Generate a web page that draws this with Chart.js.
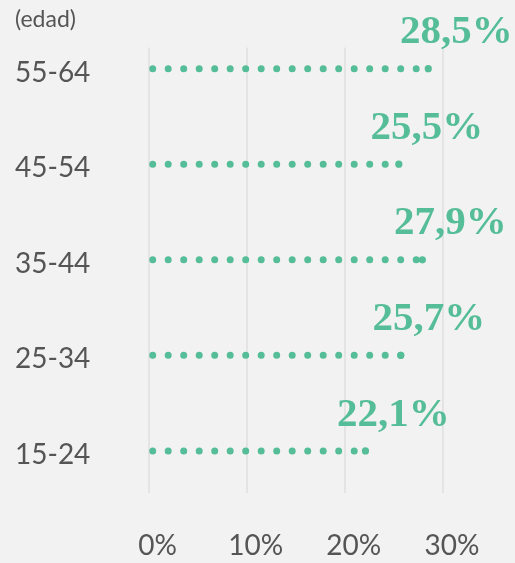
<!DOCTYPE html>
<html>
<head>
<meta charset="utf-8">
<script src="https://cdn.jsdelivr.net/npm/chart.js@4/dist/chart.umd.min.js"></script>
<style>
  html, body { margin: 0; padding: 0; background: #f2f2f2; }
  #wrap { width: 515px; height: 563px; }
</style>
</head>
<body>
<div id="wrap"><canvas id="c" width="515" height="563"></canvas></div>
<script>
const categories = ['15-24', '25-34', '35-44', '45-54', '55-64'];
const values = [22.1, 25.7, 27.9, 25.5, 28.5];
const xTicks = [0, 10, 20, 30];
const axisTitle = '(edad)';

const green = '#55bd98';
const grey = '#555555';

const datasets = categories.map((c, i) => ({
  label: c,
  data: [{ x: 0, y: i }, { x: values[i], y: i }],
  borderColor: green,
  backgroundColor: green,
  borderWidth: 7,
  borderDash: [0, 15.5],
  borderDashOffset: 11.3,
  borderCapStyle: 'round',
  pointRadius: [0, 3.6],
  pointBorderWidth: 0,
  pointBackgroundColor: green,
  tension: 0
}));

const valueLabels = {
  id: 'valueLabels',
  afterDatasetsDraw(chart) {
    const ctx = chart.ctx;
    ctx.save();
    ctx.font = 'bold 41px "Liberation Serif"';
    ctx.fillStyle = green;
    ctx.textAlign = 'center';
    ctx.textBaseline = 'middle';
    chart.data.datasets.forEach((ds, i) => {
      const meta = chart.getDatasetMeta(i);
      const pt = meta.data[meta.data.length - 1];
      const txt = values[i].toFixed(1).replace('.', ',') + '%';
      ctx.fillText(txt, pt.x + 28, pt.y - 36);
    });
    ctx.restore();
  }
};

new Chart(document.getElementById('c'), {
  type: 'line',
  data: { datasets },
  options: {
    responsive: false,
    animation: false,
    layout: { padding: { left: 15, right: 72, top: 0, bottom: 0 } },
    plugins: {
      legend: { display: false },
      tooltip: { enabled: false },
      title: {
        display: true,
        text: axisTitle,
        align: 'start',
        color: grey,
        font: { family: 'Lato', size: 23, weight: 'normal' },
        padding: { top: 6, bottom: 14 }
      }
    },
    scales: {
      x: {
        type: 'linear',
        min: 0,
        max: 30,
        afterBuildTicks(scale) { scale.ticks = xTicks.map(v => ({ value: v })); },
        afterFit(scale) { scale.height = 70; },
        ticks: {
          color: grey,
          font: { family: 'Lato', size: 28 },
          padding: 36,
          labelOffset: 9,
          maxRotation: 0,
          callback: v => v + '%'
        },
        grid: { color: '#e4e4e4', lineWidth: 2, drawTicks: false },
        border: { display: false }
      },
      y: {
        type: 'linear',
        min: -0.44,
        max: 4.22,
        afterBuildTicks(scale) { scale.ticks = categories.map((c, i) => ({ value: i })); },
        afterFit(scale) { scale.width = 133.5; },
        ticks: {
          color: grey,
          font: { family: 'Lato', size: 28 },
          crossAlign: 'far',
          labelOffset: 4,
          callback: v => categories[v]
        },
        grid: { display: false, drawTicks: false },
        border: { display: false }
      }
    }
  },
  plugins: [valueLabels]
});
</script>
</body>
</html>
